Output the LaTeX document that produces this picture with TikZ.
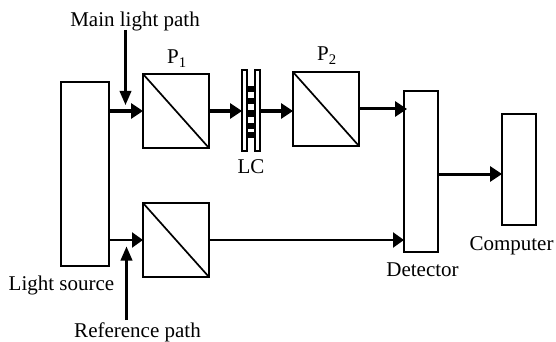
\documentclass[tikz,border=0pt]{standalone}
\usepackage{fontspec}
\setmainfont{Liberation Serif}
\usetikzlibrary{arrows.meta,positioning}
\tikzset{
    block/.style={
        draw=black,
        fill=white,
        rectangle,
        line width=1.9pt,
        inner sep=0pt,
        outer sep=0pt
    },
    prism/.style={
        block,
        minimum width=66pt,
        minimum height=74pt
    },
    plate/.style={
        block,
        line width=1.7pt,
        minimum width=5pt,
        minimum height=81pt
    },
    cell/.style={
        fill=black,
        rectangle,
        inner sep=0pt,
        minimum width=8pt,
        minimum height=6pt
    },
    arrow/.style={
        -{Triangle[length=12pt,width=15pt]},
        line width=3pt,
        color=black
    },
    thinarrow/.style={
        -{Triangle[length=11pt,width=15pt]},
        line width=2.2pt,
        color=black
    },
    pointer/.style={
        -{Triangle[length=14pt,width=11.5pt]},
        line width=2.2pt,
        color=black
    },
    label/.style={
        font=\fontsize{21pt}{24pt}\selectfont,
        inner sep=0pt,
        anchor=base
    }
}
\begin{document}
\begin{tikzpicture}[x=1pt,y=-1pt]
    \useasboundingbox (0,0) rectangle (556,342);
    \node[block, minimum width=48pt, minimum height=184pt] (source) at (85,174) {};
    \node[prism, right=34pt of source.east, yshift=63pt] (pa) {};
    \node[prism, below=55pt of pa] (pref) {};
    \node[plate, right=33pt of pa.east, yshift=0.5pt] (lcleft) {};
    \node[plate, right=8pt of lcleft] (lcright) {};
    \node[prism, right=33pt of lcright.east, yshift=1.5pt] (pb) {};
    \node[block, minimum width=34pt, minimum height=161pt] (detector) at (421,171.5) {};
    \node[block, minimum width=34pt, minimum height=111pt] (computer) at (519,169.5) {};

    % liquid crystal cells
    \foreach \i/\ypos in {1/89,2/101.5,3/113.5,4/125.5,5/134.5}
        \node[cell] (cell\i) at (251,\ypos) {};

    \draw[line width=1.7pt] (pa.north west) -- (pa.south east);
    \draw[line width=1.7pt] (pb.north west) -- (pb.south east);
    \draw[line width=1.7pt] (pref.north west) -- (pref.south east);

    \coordinate (mainstart) at (125.5,30);
    \coordinate (mainend) at (125.5,105);
    \coordinate (refstart) at (126.5,320);
    \coordinate (refend) at (126.5,246.5);
    \coordinate (detin) at (407,109);

    \draw[arrow] (source.east |- pa) -- (pa);
    \draw[arrow] (pa) -- (pa -| lcleft.west);
    \draw[arrow] (lcright.east |- pa) -- (pb.west |- pa);
    \draw[arrow] (pb.east |- detin) -- (detin);
    \draw[thinarrow] (source.east |- pref) -- (pref);
    \draw[thinarrow] (pref) -- (detector.west |- pref);
    \draw[arrow] (detector.east |- 0,174) -- (computer.west |- 0,174);
    \draw[pointer] (mainstart) -- (mainend);
    \draw[pointer] (refstart) -- (refend);

    \node[label] (mainlabel) at (135,27) {Main light path};
    \node[label] (reflabel) at (137.5,337.5) {Reference path};
    \node[label] (sourcelabel) at (61.5,290.5) {Light source};
    \node[label] (detectorlabel) at (422.5,276) {Detector};
    \node[label] (computerlabel) at (511.5,250.5) {Computer};
    \node[label] (lclabel) at (251,173) {LC};
    \node[label] (pone) at (177,64) {P\textsubscript{1}};
    \node[label] (ptwo) at (327,61) {P\textsubscript{2}};
\end{tikzpicture}
\end{document}
